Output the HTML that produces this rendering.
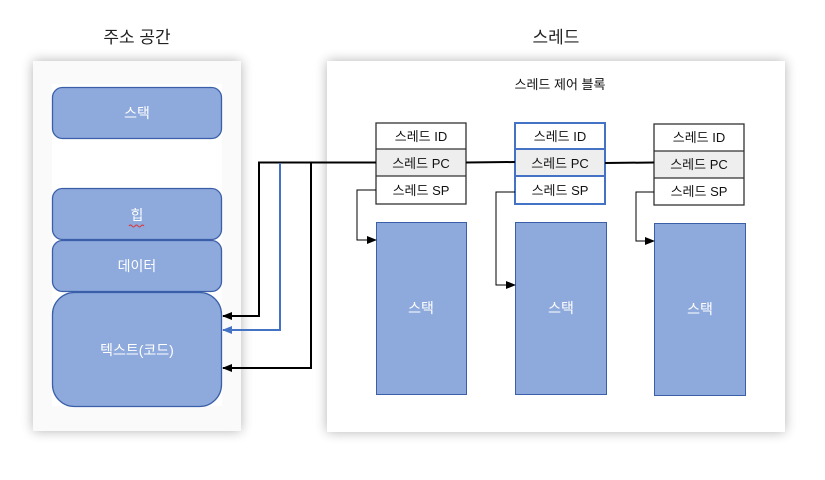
<!DOCTYPE html>
<html><head><meta charset="utf-8">
<style>
html,body{margin:0;padding:0;background:#fff;}
svg{display:block;font-family:"Liberation Sans","Noto Sans CJK KR",sans-serif;}
</style></head>
<body>
<svg width="825" height="480" viewBox="0 0 825 480" xmlns="http://www.w3.org/2000/svg">
<defs>
<filter id="sh" x="-20%" y="-20%" width="140%" height="140%">
<feGaussianBlur in="SourceAlpha" stdDeviation="6"/>
<feOffset dx="0" dy="0"/>
<feComponentTransfer><feFuncA type="linear" slope="0.3"/></feComponentTransfer>
<feMerge><feMergeNode/><feMergeNode in="SourceGraphic"/></feMerge>
</filter>
<marker id="ab" markerWidth="10" markerHeight="8" refX="9" refY="4" orient="auto" markerUnits="userSpaceOnUse"><path d="M0,0 L10,4 L0,8 z" fill="#000"/></marker>
<marker id="au" markerWidth="10" markerHeight="8" refX="9" refY="4" orient="auto" markerUnits="userSpaceOnUse"><path d="M0,0 L10,4 L0,8 z" fill="#4472c4"/></marker>
</defs>

<text x="137" y="43" font-size="17" text-anchor="middle" fill="#222">주소 공간</text>
<text x="556" y="43" font-size="17" text-anchor="middle" fill="#222">스레드</text>

<rect x="33" y="61" width="208" height="370" fill="#fafafa" filter="url(#sh)"/>
<rect x="52" y="84" width="170" height="322" fill="#fff"/>
<rect x="327" y="61" width="458" height="371" fill="#fff" filter="url(#sh)"/>

<g fill="#8eaadc" stroke="#3a5fa8" stroke-width="1.3">
<rect x="52.5" y="87.5" width="169" height="51" rx="10"/>
<rect x="52.5" y="188.5" width="169" height="51" rx="10"/>
<rect x="52.5" y="240.5" width="169" height="51" rx="10"/>
<rect x="52.5" y="292.5" width="169" height="114" rx="22"/>
</g>
<g fill="#fff" font-size="14" text-anchor="middle">
<text x="137" y="118">스택</text>
<text x="137" y="220">힙</text>
<text x="137" y="271">데이터</text>
<text x="137" y="355">텍스트(코드)</text>
</g>
<path d="M129,226 q1.5,-2 3,0 t3,0 t3,0 t3,0 t3,0" stroke="#e03030" fill="none" stroke-width="1"/>

<text x="560" y="89" font-size="13" text-anchor="middle" fill="#111">스레드 제어 블록</text>

<!-- tables -->
<g font-size="13" text-anchor="middle" fill="#111">
<rect x="376" y="149" width="90" height="27" fill="#eeeeee"/>
<rect x="376" y="123" width="90" height="81" fill="none" stroke="#333" stroke-width="1.3"/>
<line x1="376" y1="149" x2="466" y2="149" stroke="#333" stroke-width="1.3"/>
<line x1="376" y1="176" x2="466" y2="176" stroke="#333" stroke-width="1.3"/>
<text x="421" y="141">스레드 ID</text><text x="421" y="168">스레드 PC</text><text x="421" y="195">스레드 SP</text>

<rect x="515" y="149" width="90" height="27" fill="#eeeeee"/>
<rect x="515" y="123" width="90" height="81" fill="none" stroke="#4472c4" stroke-width="2"/>
<line x1="515" y1="149" x2="605" y2="149" stroke="#4472c4" stroke-width="2"/>
<line x1="515" y1="176" x2="605" y2="176" stroke="#4472c4" stroke-width="2"/>
<text x="560" y="141">스레드 ID</text><text x="560" y="168">스레드 PC</text><text x="560" y="195">스레드 SP</text>

<rect x="654" y="151" width="90" height="27" fill="#eeeeee"/>
<rect x="654" y="124" width="90" height="81" fill="none" stroke="#333" stroke-width="1.3"/>
<line x1="654" y1="151" x2="744" y2="151" stroke="#333" stroke-width="1.3"/>
<line x1="654" y1="178" x2="744" y2="178" stroke="#333" stroke-width="1.3"/>
<text x="699" y="142">스레드 ID</text><text x="699" y="169">스레드 PC</text><text x="699" y="196">스레드 SP</text>
</g>

<!-- stacks -->
<g fill="#8eaadc" stroke="#3a5fa8" stroke-width="1">
<rect x="376.5" y="222.5" width="90" height="172"/>
<rect x="515.5" y="222.5" width="91" height="172"/>
<rect x="654.5" y="223.5" width="91" height="172"/>
</g>
<g fill="#fff" font-size="14" text-anchor="middle">
<text x="421" y="313">스택</text><text x="561" y="313">스택</text><text x="700" y="314">스택</text>
</g>

<!-- PC connectors -->
<g stroke="#000" stroke-width="2" fill="none">
<line x1="466" y1="162.5" x2="515" y2="162"/>
<line x1="605" y1="163" x2="654" y2="162.5"/>
<polyline points="376,162.5 259,162.5 259,316 223,316" marker-end="url(#ab)"/>
<polyline points="311,162.5 311,368 223,368" marker-end="url(#ab)"/>
</g>
<polyline points="280,163 280,330 223,330" stroke="#4472c4" stroke-width="2" fill="none" marker-end="url(#au)"/>

<!-- SP connectors -->
<g stroke="#000" stroke-width="1" fill="none">
<polyline points="376,190 357,190 357,240 376,240" marker-end="url(#ab)"/>
<polyline points="515,192 496,192 496,285 515,285" marker-end="url(#ab)"/>
<polyline points="654,192 636,192 636,241 654,241" marker-end="url(#ab)"/>
</g>
</svg>
</body></html>
